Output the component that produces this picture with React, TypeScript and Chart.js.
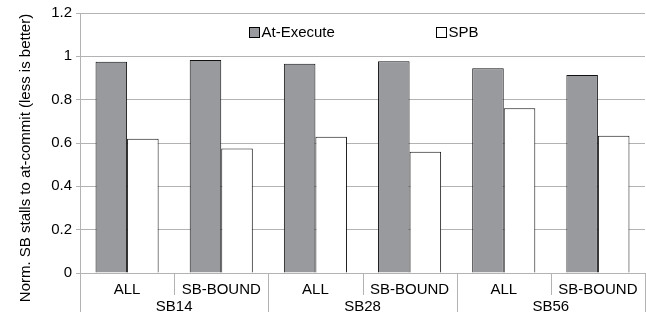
import React, { useEffect, useRef } from "react";
import { Chart, registerables } from "chart.js";

Chart.register(...registerables);

const categories = ["ALL", "SB-BOUND", "ALL", "SB-BOUND", "ALL", "SB-BOUND"];
const groups = ["SB14", "SB28", "SB56"];
const groupSize = 2;
const atExecute = [0.975, 0.983, 0.966, 0.977, 0.945, 0.914];
const spb = [0.62, 0.575, 0.629, 0.56, 0.76, 0.634];
const yTicks = [0, 0.2, 0.4, 0.6, 0.8, 1, 1.2];
const yTitle = "Norm. SB stalls to at-commit (less is better)";

const FONT = "'Liberation Sans', Arial, sans-serif";
const AXIS_GRAY = "#b3b3b3";

const xAxisPlugin = {
  id: "multiLevelX",
  afterDraw(chart: any) {
    const ctx = chart.ctx;
    const x = chart.scales.x;
    const area = chart.chartArea;
    const n = categories.length;
    const half = (x.getPixelForValue(1) - x.getPixelForValue(0)) / 2;
    ctx.save();
    ctx.strokeStyle = AXIS_GRAY;
    ctx.lineWidth = 1;
    for (let i = 0; i <= n; i++) {
      const px = i < n ? x.getPixelForValue(i) - half : x.getPixelForValue(n - 1) + half;
      const isGroup = i % groupSize === 0;
      const bottom = area.bottom + (isGroup ? 39 : 22);
      const xx = Math.round(px) + 0.5;
      ctx.beginPath();
      ctx.moveTo(xx, area.bottom);
      ctx.lineTo(xx, bottom);
      ctx.stroke();
    }
    ctx.fillStyle = "#000";
    ctx.font = `15px ${FONT}`;
    ctx.textAlign = "center";
    ctx.textBaseline = "middle";
    categories.forEach((c, i) => {
      ctx.fillText(c, x.getPixelForValue(i), area.bottom + 17);
    });
    groups.forEach((g, gi) => {
      const a = x.getPixelForValue(gi * groupSize) - half;
      const b = x.getPixelForValue(gi * groupSize + groupSize - 1) + half;
      ctx.fillText(g, (a + b) / 2, area.bottom + 34);
    });
    // y-axis title, centred on the full canvas height
    ctx.save();
    ctx.translate(26, chart.height / 2);
    ctx.rotate(-Math.PI / 2);
    ctx.fillText(yTitle, 0, 0);
    ctx.restore();
    ctx.restore();
  },
};

const legendPlugin = {
  id: "innerLegend",
  afterDraw(chart: any) {
    const ctx = chart.ctx;
    const xs = [249.5, 436.5];
    ctx.save();
    ctx.font = `15px ${FONT}`;
    ctx.textBaseline = "middle";
    ctx.textAlign = "left";
    chart.data.datasets.forEach((ds: any, i: number) => {
      const bx = xs[i];
      const by = 27.5;
      ctx.fillStyle = ds.backgroundColor;
      ctx.fillRect(bx, by, 10, 10);
      ctx.strokeStyle = "#000";
      ctx.lineWidth = 1;
      ctx.strokeRect(bx, by, 10, 10);
      ctx.fillStyle = "#000";
      ctx.fillText(ds.label, bx + 12, by + 5);
    });
    ctx.restore();
  },
};

export default function App() {
  const ref = useRef<HTMLCanvasElement>(null);
  useEffect(() => {
    if (!ref.current) return;
    const chart = new Chart(ref.current, {
      type: "bar",
      data: {
        labels: categories,
        datasets: [
          {
            label: "At-Execute",
            data: atExecute,
            backgroundColor: "#999a9e",
            borderColor: "#111",
            borderWidth: 1,
            categoryPercentage: 0.67,
            barPercentage: 1,
          },
          {
            label: "SPB",
            data: spb,
            backgroundColor: "#ffffff",
            borderColor: "#111",
            borderWidth: 1,
            categoryPercentage: 0.67,
            barPercentage: 1,
          },
        ],
      },
      options: {
        animation: false,
        responsive: false,
        maintainAspectRatio: false,
        layout: { padding: { top: 13, right: 1, left: 0, bottom: 0 } },
        plugins: { legend: { display: false }, tooltip: { enabled: false } },
        scales: {
          x: {
            ticks: { display: false },
            grid: { display: false },
            border: { display: false },
            afterFit: (s: any) => {
              s.height = 43;
            },
          },
          y: {
            min: 0,
            max: 1.2,
            afterBuildTicks: (s: any) => {
              s.ticks = yTicks.map((v) => ({ value: v }));
            },
            ticks: {
              font: { family: FONT, size: 15 },
              color: "#000",
              padding: 4,
              callback: (v: any) => String(Number(v.toFixed ? v.toFixed(1) : v)),
            },
            grid: { color: AXIS_GRAY, tickLength: 4, lineWidth: 1 },
            border: { color: AXIS_GRAY },
            afterFit: (s: any) => {
              s.width = 80;
            },
          },
        },
      },
      plugins: [xAxisPlugin, legendPlugin],
    });
    return () => chart.destroy();
  }, []);
  return (
    <div style={{ position: "fixed", left: 0, top: 0, width: 646, height: 316, background: "#fff" }}>
      <canvas ref={ref} width={646} height={316} />
    </div>
  );
}
